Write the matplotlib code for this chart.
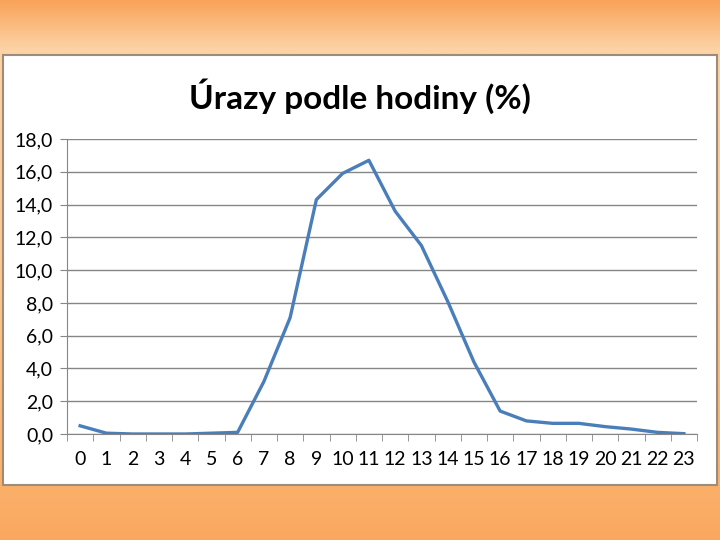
import matplotlib
matplotlib.use('Agg')
import matplotlib.pyplot as plt
import numpy as np
from matplotlib.patches import Rectangle
from matplotlib.colors import LinearSegmentedColormap
from matplotlib.ticker import FuncFormatter, MultipleLocator

plt.rcParams['font.family'] = ['Lato', 'DejaVu Sans']

# data
hours = [str(h) for h in range(24)]
values = [0.5, 0.05, 0.0, 0.0, 0.0, 0.05, 0.1, 3.2, 7.1, 14.3, 15.9, 16.7,
          13.6, 11.5, 8.1, 4.4, 1.4, 0.8, 0.65, 0.65, 0.45, 0.3, 0.1, 0.02]
title = 'Úrazy podle hodiny (%)'

fig = plt.figure(figsize=(7.2, 5.4), dpi=100)

# oranzove pozadi s prechodem
bg = fig.add_axes([0, 0, 1, 1], zorder=0)
cmap = LinearSegmentedColormap.from_list(
    'bg', [(0.0, '#F9A35A'), (0.09, '#FDD3A6'), (0.5, '#FDC890'), (0.9, '#FBB06A'), (1.0, '#FAA860')])
grad = np.linspace(0, 1, 256).reshape(-1, 1)
bg.imshow(grad, aspect='auto', cmap=cmap, extent=[0, 1, 0, 1], origin='upper')
bg.set_xlim(0, 1)
bg.set_ylim(0, 1)
bg.axis('off')

# bily panel grafu
bg.add_patch(Rectangle((3 / 720, 1 - 485 / 540), 714 / 720, 430 / 540,
                       facecolor='white', edgecolor='#9C8C7C', linewidth=1.5, zorder=2))

fig.text(0.5, 1 - 96 / 540, title, ha='center', va='center', fontsize=24, fontweight='bold', zorder=5)

ax = fig.add_axes([67 / 720, 1 - 434 / 540, 630 / 720, 295 / 540], zorder=3)
ax.patch.set_alpha(0)
x = np.arange(len(hours))
ax.plot(x, values, color='#4A7EBB', linewidth=2.4, solid_joinstyle='round', zorder=3)

ax.set_xlim(-0.5, len(hours) - 0.5)
ax.set_ylim(0, 18)
ax.yaxis.set_major_locator(MultipleLocator(2))
ax.yaxis.set_major_formatter(FuncFormatter(lambda v, p: f'{v:.1f}'.replace('.', ',')))
ax.set_xticks(x)
ax.set_xticklabels(hours)
ax.set_xticks(np.arange(-0.5, len(hours), 1), minor=True)
ax.tick_params(axis='x', which='major', length=0, pad=12, labelsize=14)
ax.tick_params(axis='x', which='minor', length=5, color='#868686', direction='out')
ax.tick_params(axis='y', length=5, color='#868686', labelsize=14, pad=5)

ax.grid(axis='y', color='#868686', linewidth=1)
ax.set_axisbelow(True)
for side in ['top', 'right']:
    ax.spines[side].set_visible(False)
ax.spines['left'].set_color('#868686')
ax.spines['bottom'].set_color('#868686')

plt.savefig('out.png', dpi=100)
